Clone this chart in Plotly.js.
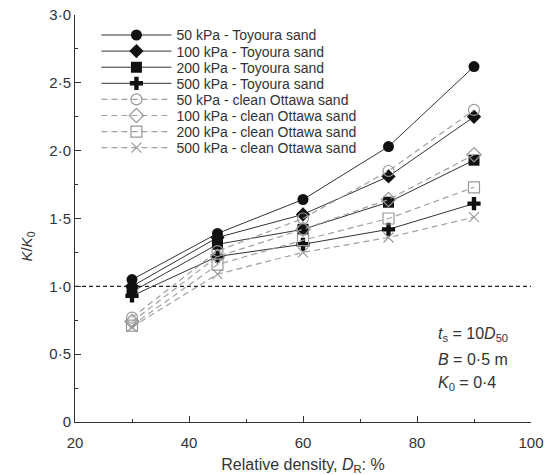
<!DOCTYPE html>
<html>
<head>
<meta charset="utf-8">
<script src="https://cdn.plot.ly/plotly-3.0.1.min.js"></script>
<style>html,body{margin:0;padding:0;background:#fff;}#chart{width:553px;height:475px;}</style>
</head>
<body>
<div id="chart"></div>
<script>
// Relative density D_R (%)
const dr = [30, 45, 60, 75, 90];
// K/K0 values
const toy50  = [1.05, 1.39, 1.64, 2.03, 2.62];
const toy100 = [1.00, 1.36, 1.53, 1.81, 2.25];
const toy200 = [0.96, 1.31, 1.42, 1.62, 1.93];
const toy500 = [0.93, 1.22, 1.31, 1.42, 1.61];
const ott50  = [0.77, 1.26, 1.50, 1.85, 2.30];
const ott100 = [0.74, 1.22, 1.42, 1.64, 1.97];
const ott200 = [0.71, 1.16, 1.34, 1.50, 1.73];
const ott500 = [0.70, 1.09, 1.25, 1.36, 1.51];
const seriesNames = [
  "50 kPa - Toyoura sand", "100 kPa - Toyoura sand", "200 kPa - Toyoura sand", "500 kPa - Toyoura sand",
  "50 kPa - clean Ottawa sand", "100 kPa - clean Ottawa sand", "200 kPa - clean Ottawa sand", "500 kPa - clean Ottawa sand"
];
const xTickVals = [20, 40, 60, 80, 100];
const xTickText = ["20", "40", "60", "80", "100"];
const yTickVals = [0, 0.5, 1.0, 1.5, 2.0, 2.5, 3.0];
const yTickText = ["0", "0·5", "1·0", "1·5", "2·0", "2·5", "3·0"];
const refLine = 1.0;

const toyData = [toy50, toy100, toy200, toy500];
const ottData = [ott50, ott100, ott200, ott500];
const toySymbols = ["circle", "diamond", "square", "cross"];
const toySizes = [11, 11, 11, 11];
const ottSymbols = ["circle-open", "diamond-open", "square-open", "x-thin-open"];
const ottSizes = [11, 11, 11, 10];

const traces = [];
toyData.forEach((y, i) => {
  traces.push({
    x: dr, y: y, name: seriesNames[i], type: "scatter", mode: "lines+markers",
    line: {color: "#333", width: 1},
    marker: {symbol: toySymbols[i], size: toySizes[i], color: "#111", line: {width: 0}}
  });
});
ottData.forEach((y, i) => {
  traces.push({
    x: dr, y: y, name: seriesNames[4 + i], type: "scatter", mode: "lines+markers",
    line: {color: "#a0a0a0", width: 1.2, dash: "6px,4px"},
    marker: {symbol: ottSymbols[i], size: ottSizes[i], color: "#999", line: {width: 1.2, color: "#999"}}
  });
});

const font = "Liberation Sans, Arial, sans-serif";
const layout = {
  width: 553, height: 475,
  margin: {l: 75, r: 22, t: 15, b: 52.5},
  paper_bgcolor: "#fff", plot_bgcolor: "#fff",
  font: {family: font, size: 15, color: "#333"},
  showlegend: true,
  legend: {x: 0.047, y: 0.99, xanchor: "left", yanchor: "top", bgcolor: "rgba(0,0,0,0)",
           font: {family: font, size: 14, color: "#333"}, itemwidth: 70, tracegroupgap: 0},
  xaxis: {
    range: [20, 100], tickmode: "array", tickvals: xTickVals, ticktext: xTickText,
    ticks: "inside", ticklen: 6, tickcolor: "#333", showline: true, linecolor: "#333", linewidth: 1,
    showgrid: false, zeroline: false, tickfont: {size: 15, color: "#333"}, ticklabelstandoff: 7,
    minor: {tickmode: "linear", tick0: 20, dtick: 10, ticks: "inside", ticklen: 3, tickcolor: "#333", showgrid: false},
    title: {text: "Relative density, <i>D</i><sub>R</sub>: %", font: {size: 16, color: "#333"}, standoff: 8}
  },
  yaxis: {
    range: [0, 3], tickmode: "array", tickvals: yTickVals, ticktext: yTickText,
    ticks: "inside", ticklen: 6, tickcolor: "#333", showline: true, linecolor: "#333", linewidth: 1,
    showgrid: false, zeroline: false, tickfont: {size: 15, color: "#333"},
    minor: {tickmode: "linear", tick0: 0, dtick: 0.25, ticks: "inside", ticklen: 3, tickcolor: "#333", showgrid: false}
  },
  shapes: [{type: "line", xref: "paper", x0: 0, x1: 1, yref: "y", y0: refLine, y1: refLine,
            line: {color: "#222", width: 1.2, dash: "4px,3px"}, layer: "below"}],
  annotations: [
    {xref: "paper", yref: "paper", x: -0.104, y: 0.43, xanchor: "center", yanchor: "middle", showarrow: false,
     textangle: -90, text: "<i>K</i>/<i>K</i><sub>0</sub>", font: {size: 15, color: "#333"}},
    {xref: "paper", yref: "paper", x: 0.792, y: 0.214, xanchor: "left", yanchor: "middle", showarrow: false,
     text: "<i>t</i><sub>s</sub> = 10<i>D</i><sub>50</sub>", font: {size: 16, color: "#333"}},
    {xref: "paper", yref: "paper", x: 0.792, y: 0.153, xanchor: "left", yanchor: "middle", showarrow: false,
     text: "<i>B</i> = 0·5 m", font: {size: 16, color: "#333"}},
    {xref: "paper", yref: "paper", x: 0.792, y: 0.094, xanchor: "left", yanchor: "middle", showarrow: false,
     text: "<i>K</i><sub>0</sub> = 0·4", font: {size: 16, color: "#333"}}
  ]
};

// Compact the legend rows (reference spacing ~16 px, first row centred at ~35 px)
function compactLegend() {
  const gd = document.getElementById("chart");
  const items = gd.querySelectorAll(".legend .traces");
  items.forEach((node, i) => {
    if (!node.hasAttribute("data-orig")) node.setAttribute("data-orig", node.getAttribute("transform") || "");
    node.setAttribute("transform", node.getAttribute("data-orig"));
    const cur = node.getCTM().f;
    const want = 35 + i * 16.1;
    node.setAttribute("transform", node.getAttribute("data-orig") + " translate(0," + (want - cur) + ")");
  });
}
Plotly.newPlot("chart", traces, layout, {displayModeBar: false, staticPlot: true}).then(compactLegend);
</script>
</body>
</html>
